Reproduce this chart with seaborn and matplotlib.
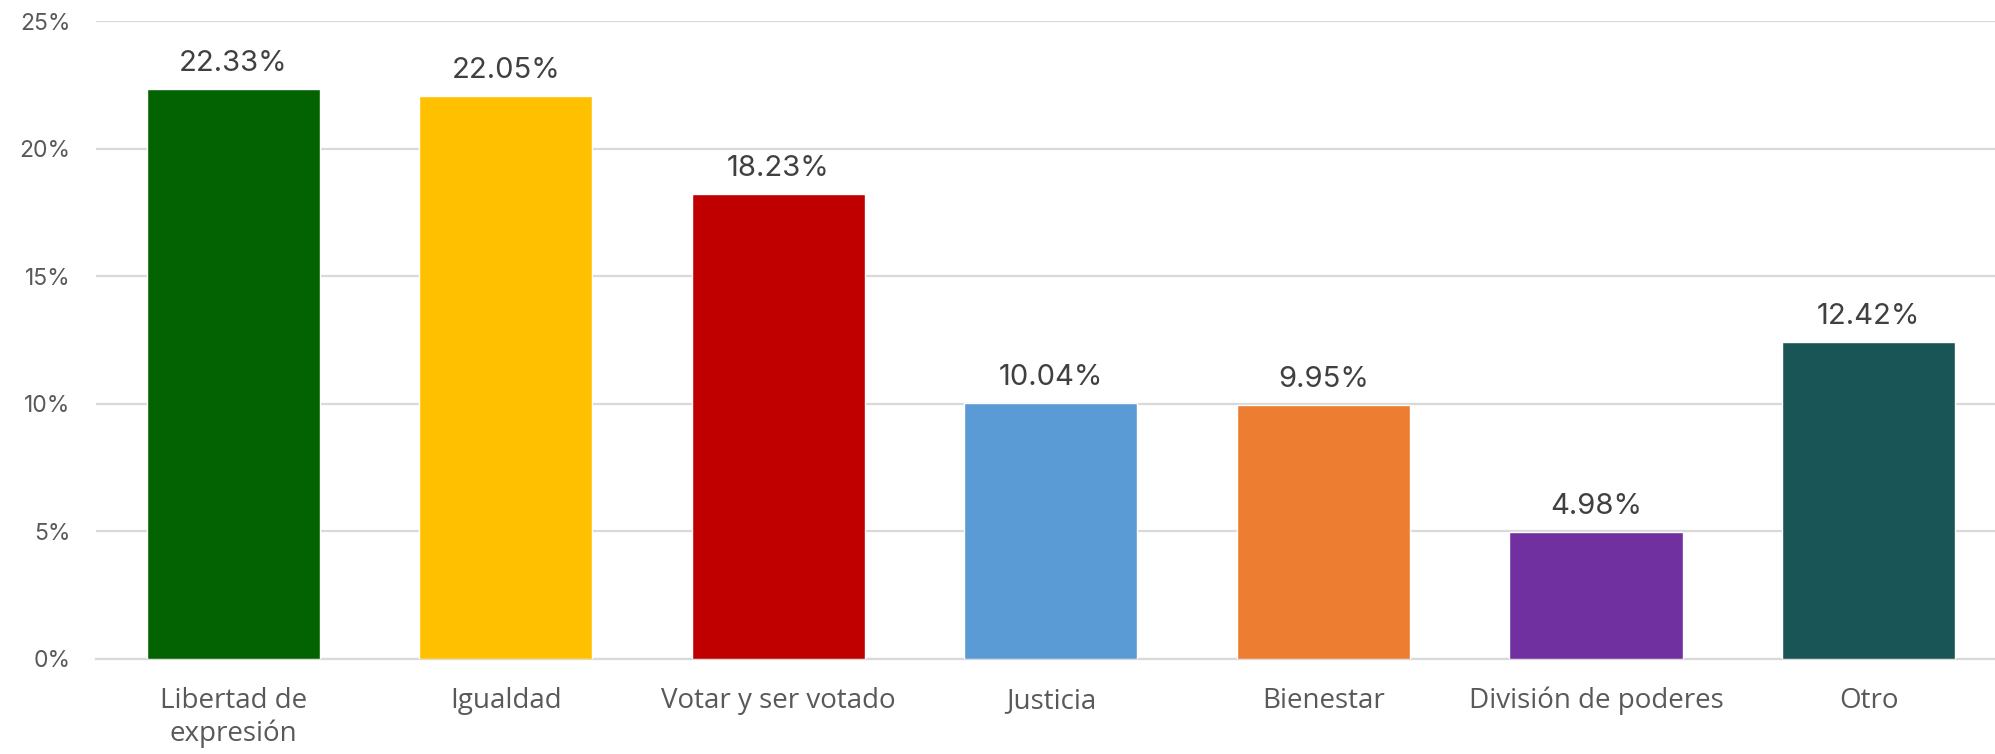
import matplotlib
matplotlib.use("Agg")
import matplotlib.pyplot as plt
import seaborn as sns
import pandas as pd
from matplotlib.ticker import FuncFormatter

categories = ["Libertad de\nexpresión", "Igualdad", "Votar y ser votado", "Justicia",
              "Bienestar", "División de poderes", "Otro"]
values = [22.33, 22.05, 18.23, 10.04, 9.95, 4.98, 12.42]
colors = ["#036303", "#FFC000", "#C00000", "#5B9BD5", "#ED7D31", "#7030A0", "#195456"]
yticks = [0, 5, 10, 15, 20, 25]

sns.set_theme(style="white")
plt.rcParams['font.family'] = ['Inter', 'DejaVu Sans']

df = pd.DataFrame({"cat": categories, "val": values})

fig = plt.figure(figsize=(19.95, 7.54), dpi=100)
ax = fig.add_axes([0.048, 0.126, 0.952, 0.846])

sns.barplot(data=df, x="cat", y="val", hue="cat", palette=colors, legend=False,
            width=0.635, saturation=1, ax=ax, zorder=3)

ax.set_xlim(-0.5046, 6.464)
ax.set_ylim(0, 25)
ax.set_yticks(yticks)
ax.yaxis.set_major_formatter(FuncFormatter(lambda v, p: f"{v:.0f}%"))
ax.grid(axis="y", color="#D9D9D9", linewidth=1.6, zorder=0)
ax.set_axisbelow(True)
for s in ["top", "right", "left"]:
    ax.spines[s].set_visible(False)
ax.spines["bottom"].set_color("#D9D9D9")
ax.spines["bottom"].set_linewidth(1.6)
ax.set_xlabel("")
ax.set_ylabel("")
ax.tick_params(axis="y", length=0, pad=18, labelsize=16.5, labelcolor="#595959")
ax.tick_params(axis="x", length=0, pad=20, labelcolor="#595959")
for lab in ax.get_xticklabels():
    lab.set_fontfamily(["Open Sans", "DejaVu Sans"])
    lab.set_fontsize(20)
    lab.set_linespacing(1.2)
    lab.set_verticalalignment("top")

for i, v in enumerate(values):
    ax.annotate(f"{v:.2f}%", (i, v), xytext=(0, 18.5), textcoords="offset points",
                ha="center", va="center", fontsize=21, color="#404040")

fig.savefig("out.png", dpi=100)
